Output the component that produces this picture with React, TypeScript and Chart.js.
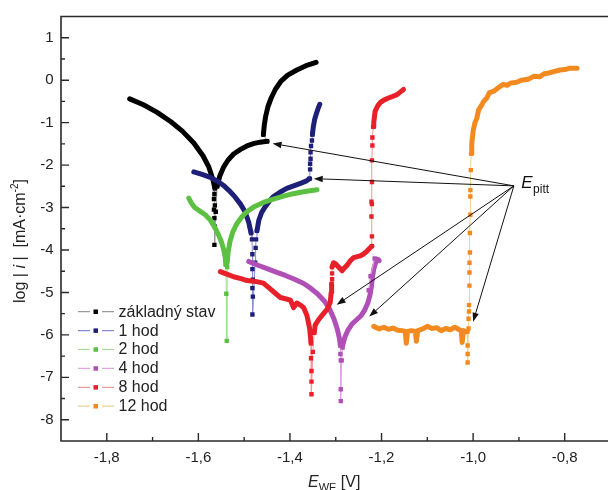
import React, { useEffect, useRef } from "react";
import { Chart, registerables } from "chart.js";

Chart.register(...registerables);

type P = [number, number];

const FONT = '"Liberation Sans", Arial, Helvetica, sans-serif';

// ---- axes ----
const xMin = -1.9;
const xMax = -0.7;
const yMin = -8.5;
const yMax = 1.5;
const xTickValues = [-1.8, -1.6, -1.4, -1.2, -1.0, -0.8];
const xMinorValues = [-1.7, -1.5, -1.3, -1.1, -0.9];
const yTickValues = [1, 0, -1, -2, -3, -4, -5, -6, -7, -8];
const yMinorValues = [0.5, -0.5, -1.5, -2.5, -3.5, -4.5, -5.5, -6.5, -7.5];

const seriesNames = ["základný stav", "1 hod", "2 hod", "4 hod", "8 hod", "12 hod"];

// ---- základný stav ----
const stavCathodic: P[] = [[-1.750, -0.44], [-1.720, -0.58], [-1.690, -0.76], [-1.660, -0.98], [-1.635, -1.20], [-1.610, -1.48], [-1.590, -1.78], [-1.577, -2.05], [-1.568, -2.35], [-1.564, -2.55]];
const stavMin: P[] = [[-1.564, -2.55], [-1.565, -2.68], [-1.566, -2.80], [-1.564, -2.95], [-1.566, -3.05], [-1.565, -3.25], [-1.564, -3.45], [-1.565, -3.88], [-1.562, -3.10], [-1.559, -2.50]];
const stavAnodicA: P[] = [[-1.559, -2.50], [-1.553, -2.25], [-1.545, -2.05], [-1.535, -1.88], [-1.523, -1.74], [-1.508, -1.63], [-1.494, -1.55], [-1.478, -1.49], [-1.465, -1.46], [-1.450, -1.44]];
const stavGap: P[] = [[-1.450, -1.44], [-1.458, -1.28]];
const stavAnodicB: P[] = [[-1.458, -1.28], [-1.456, -1.05], [-1.453, -0.85], [-1.448, -0.62], [-1.441, -0.42], [-1.432, -0.22], [-1.420, -0.03], [-1.405, 0.12], [-1.385, 0.24], [-1.365, 0.34], [-1.343, 0.42]];

// ---- 1 hod ----
const h1Cathodic: P[] = [[-1.610, -2.16], [-1.592, -2.22], [-1.574, -2.29], [-1.558, -2.38], [-1.545, -2.48], [-1.533, -2.60], [-1.520, -2.75], [-1.508, -2.92], [-1.498, -3.10], [-1.490, -3.35], [-1.485, -3.60]];
const h1Min: P[] = [[-1.485, -3.60], [-1.483, -3.75], [-1.482, -4.10], [-1.482, -4.45], [-1.481, -4.70], [-1.482, -4.90], [-1.481, -5.10], [-1.482, -5.52], [-1.476, -4.30], [-1.475, -3.95], [-1.474, -3.75], [-1.472, -3.55]];
const h1Anodic: P[] = [[-1.472, -3.55], [-1.468, -3.30], [-1.462, -3.12], [-1.454, -2.98], [-1.445, -2.85], [-1.436, -2.74], [-1.422, -2.64], [-1.407, -2.55], [-1.392, -2.49], [-1.377, -2.43], [-1.365, -2.38], [-1.357, -2.32]];
const h1Jump: P[] = [[-1.357, -2.32], [-1.356, -2.10], [-1.356, -1.97], [-1.355, -1.85], [-1.355, -1.70], [-1.354, -1.55], [-1.352, -1.42], [-1.351, -1.28]];
const h1Top: P[] = [[-1.351, -1.28], [-1.349, -1.10], [-1.346, -0.92], [-1.342, -0.78], [-1.338, -0.65], [-1.335, -0.57]];

// ---- 2 hod ----
const h2Cathodic: P[] = [[-1.621, -2.78], [-1.615, -2.90], [-1.608, -3.00], [-1.596, -3.09], [-1.585, -3.17], [-1.575, -3.28], [-1.565, -3.45], [-1.557, -3.62], [-1.550, -3.80], [-1.545, -3.98], [-1.541, -4.20], [-1.540, -4.35]];
const h2Min: P[] = [[-1.540, -4.35], [-1.539, -5.03], [-1.538, -6.14], [-1.537, -4.40]];
const h2Anodic: P[] = [[-1.537, -4.30], [-1.535, -4.05], [-1.531, -3.80], [-1.525, -3.58], [-1.516, -3.38], [-1.505, -3.22], [-1.494, -3.10], [-1.478, -2.98], [-1.458, -2.88], [-1.436, -2.80], [-1.414, -2.73], [-1.395, -2.68], [-1.377, -2.64], [-1.360, -2.61], [-1.341, -2.58]];

// ---- 4 hod ----
const h4Cathodic: P[] = [[-1.490, -4.27], [-1.470, -4.36], [-1.450, -4.44], [-1.430, -4.52], [-1.410, -4.60], [-1.390, -4.69], [-1.370, -4.79], [-1.355, -4.90], [-1.340, -5.03], [-1.325, -5.20], [-1.313, -5.40], [-1.304, -5.62], [-1.297, -5.85], [-1.292, -6.08], [-1.290, -6.25]];
const h4Min: P[] = [[-1.290, -6.25], [-1.290, -6.45], [-1.289, -6.60], [-1.289, -7.28], [-1.289, -7.56], [-1.287, -6.60], [-1.285, -6.30]];
const h4Anodic: P[] = [[-1.285, -6.25], [-1.280, -6.05], [-1.273, -5.88], [-1.265, -5.75], [-1.255, -5.65], [-1.245, -5.55], [-1.237, -5.42], [-1.230, -5.25], [-1.225, -5.05], [-1.222, -4.85], [-1.220, -4.65], [-1.217, -4.45], [-1.213, -4.30], [-1.208, -4.22], [-1.205, -4.25]];
const h4Dots: P[] = [[-1.228, -4.95], [-1.224, -4.62], [-1.215, -4.20]];

// ---- 8 hod ----
const h8Cathodic: P[] = [[-1.552, -4.51], [-1.535, -4.58], [-1.523, -4.63], [-1.505, -4.68], [-1.494, -4.72], [-1.475, -4.74], [-1.458, -4.78], [-1.445, -4.90], [-1.432, -5.02], [-1.421, -5.12], [-1.410, -5.15], [-1.399, -5.18], [-1.392, -5.36], [-1.385, -5.25], [-1.377, -5.30], [-1.370, -5.36], [-1.363, -5.54], [-1.357, -5.85], [-1.354, -6.20]];
const h8Min: P[] = [[-1.354, -6.20], [-1.354, -6.55], [-1.353, -6.85], [-1.353, -7.10], [-1.353, -7.40], [-1.350, -6.40], [-1.347, -5.95]];
const h8AnodicA: P[] = [[-1.347, -5.95], [-1.345, -5.77], [-1.338, -5.65], [-1.330, -5.54], [-1.319, -5.40], [-1.312, -5.23], [-1.310, -5.00], [-1.309, -4.80]];
const h8Step: P[] = [[-1.309, -4.80], [-1.308, -4.69], [-1.308, -4.55], [-1.308, -4.40]];
const h8AnodicB: P[] = [[-1.308, -4.40], [-1.305, -4.30], [-1.300, -4.33], [-1.294, -4.40], [-1.286, -4.49], [-1.281, -4.42], [-1.276, -4.37], [-1.268, -4.25], [-1.261, -4.18], [-1.247, -4.14], [-1.240, -4.10], [-1.232, -4.03], [-1.226, -3.96], [-1.221, -3.91]];
const h8Jump: P[] = [[-1.221, -3.91], [-1.221, -3.68], [-1.222, -3.21], [-1.222, -2.86], [-1.221, -2.92], [-1.221, -2.40], [-1.221, -1.89], [-1.220, -1.54], [-1.220, -1.35], [-1.218, -1.10]];
const h8Top: P[] = [[-1.218, -1.10], [-1.217, -1.00], [-1.214, -0.73], [-1.208, -0.60], [-1.203, -0.53], [-1.195, -0.47], [-1.185, -0.42], [-1.175, -0.38], [-1.166, -0.34], [-1.158, -0.27], [-1.152, -0.22]];

// ---- 12 hod ----
const h12Plateau: P[] = [[-1.217, -5.80], [-1.205, -5.86], [-1.195, -5.82], [-1.185, -5.87], [-1.175, -5.84], [-1.165, -5.89], [-1.155, -5.90], [-1.148, -5.92], [-1.146, -6.20], [-1.143, -5.92], [-1.135, -5.90], [-1.126, -5.92], [-1.124, -6.15], [-1.121, -5.90], [-1.110, -5.86], [-1.100, -5.80], [-1.090, -5.85], [-1.080, -5.83], [-1.070, -5.90], [-1.060, -5.85], [-1.050, -5.88], [-1.040, -5.82], [-1.030, -5.88], [-1.026, -5.90], [-1.024, -6.18], [-1.021, -5.90], [-1.013, -5.93]];
const h12Jump: P[] = [[-1.013, -5.93], [-1.012, -6.25], [-1.012, -6.45], [-1.012, -6.65], [-1.010, -5.85], [-1.010, -5.62], [-1.009, -5.45], [-1.009, -5.30], [-1.008, -4.84], [-1.008, -4.53], [-1.008, -4.30], [-1.007, -4.06], [-1.007, -3.60], [-1.006, -3.17], [-1.006, -2.74], [-1.006, -2.59], [-1.005, -2.12], [-1.004, -1.73]];
const h12Top: P[] = [[-1.004, -1.73], [-1.003, -1.50], [-1.000, -1.20], [-0.996, -1.00], [-0.992, -0.90], [-0.988, -0.70], [-0.982, -0.60], [-0.977, -0.50], [-0.970, -0.42], [-0.965, -0.30], [-0.955, -0.26], [-0.945, -0.18], [-0.935, -0.10], [-0.925, -0.12], [-0.919, -0.07], [-0.905, -0.05], [-0.895, 0.00], [-0.880, 0.02], [-0.868, 0.09], [-0.855, 0.08], [-0.845, 0.15], [-0.835, 0.17], [-0.824, 0.20], [-0.810, 0.24], [-0.800, 0.25], [-0.790, 0.28], [-0.773, 0.28]];

// ---- E_pitt annotation (data units) ----
const pittOrigin: P = [-0.911, -2.49];
const pittTargets: P[] = [[-1.438, -1.49], [-1.348, -2.32], [-1.298, -5.29], [-1.227, -5.57], [-1.000, -5.69]];
const pittLabelAt: P = [-0.895, -2.53];

type Part = [P[], boolean]; // points, dense?
const seriesDefs: { name: string; marker: string; line: string; parts: Part[] }[] = [
  { name: seriesNames[0], marker: "#000000", line: "#9a9a9a", parts: [[stavCathodic, true], [stavMin, false], [stavAnodicA, true], [stavGap, false], [stavAnodicB, true]] },
  { name: seriesNames[1], marker: "#1e1f76", line: "#8a8ad8", parts: [[h1Cathodic, true], [h1Min, false], [h1Anodic, true], [h1Jump, false], [h1Top, true]] },
  { name: seriesNames[2], marker: "#5cc043", line: "#9fe08f", parts: [[h2Cathodic, true], [h2Min, false], [h2Anodic, true]] },
  { name: seriesNames[3], marker: "#b04fb6", line: "#e2a4e6", parts: [[h4Cathodic, true], [h4Min, false], [h4Anodic, true], [h4Dots, false]] },
  { name: seriesNames[4], marker: "#e8202a", line: "#ec9a9a", parts: [[h8Cathodic, true], [h8Min, false], [h8AnodicA, true], [h8Step, false], [h8AnodicB, true], [h8Jump, false], [h8Top, true]] },
  { name: seriesNames[5], marker: "#f28a1f", line: "#eed29c", parts: [[h12Plateau, true], [h12Jump, false], [h12Top, true]] },
];

const fmt = (v: number) => v.toFixed(1).replace(".", ",");

const overlay = {
  id: "overlay",
  afterDraw(chart: any) {
    const ctx: CanvasRenderingContext2D = chart.ctx;
    const xs = chart.scales.x;
    const ys = chart.scales.y;
    const { left, right, top, bottom } = chart.chartArea;
    ctx.save();
    // frame
    ctx.strokeStyle = "#2a2a2a";
    ctx.lineWidth = 1.6;
    ctx.beginPath();
    ctx.moveTo(left, top);
    ctx.lineTo(right, top);
    ctx.lineTo(right, bottom);
    ctx.lineTo(left, bottom);
    ctx.closePath();
    ctx.stroke();
    // ticks (inward)
    ctx.lineWidth = 1.4;
    ctx.beginPath();
    xTickValues.forEach((v) => { const p = xs.getPixelForValue(v); ctx.moveTo(p, bottom); ctx.lineTo(p, bottom - 8); });
    xMinorValues.forEach((v) => { const p = xs.getPixelForValue(v); ctx.moveTo(p, bottom); ctx.lineTo(p, bottom - 4); });
    yTickValues.forEach((v) => { const p = ys.getPixelForValue(v); ctx.moveTo(left, p); ctx.lineTo(left + 8, p); });
    yMinorValues.forEach((v) => { const p = ys.getPixelForValue(v); ctx.moveTo(left, p); ctx.lineTo(left + 4, p); });
    ctx.stroke();

    // y title
    ctx.fillStyle = "#222";
    ctx.textBaseline = "alphabetic";
    const yRuns = [
      { t: "log | ", f: `16px ${FONT}`, dy: 0 },
      { t: "i", f: `italic 16px ${FONT}`, dy: 0 },
      { t: " |  [mA·cm", f: `16px ${FONT}`, dy: 0 },
      { t: "-2", f: `10px ${FONT}`, dy: -7 },
      { t: "]", f: `16px ${FONT}`, dy: 0 },
    ];
    let total = 0;
    yRuns.forEach((r) => { ctx.font = r.f; total += ctx.measureText(r.t).width; });
    ctx.save();
    ctx.translate(25, 241);
    ctx.rotate(-Math.PI / 2);
    let cx = -total / 2;
    yRuns.forEach((r) => { ctx.font = r.f; ctx.textAlign = "left"; ctx.fillText(r.t, cx, r.dy); cx += ctx.measureText(r.t).width; });
    ctx.restore();

    // x title
    const xRuns = [
      { t: "E", f: `italic 16px ${FONT}`, dy: 0 },
      { t: "WE", f: `11px ${FONT}`, dy: 4 },
      { t: " [V]", f: `16px ${FONT}`, dy: 0 },
    ];
    let tx = 308;
    xRuns.forEach((r) => { ctx.font = r.f; ctx.textAlign = "left"; ctx.fillText(r.t, tx, 487 + r.dy); tx += ctx.measureText(r.t).width; });

    // legend
    const legY = [311.7, 330.6, 349.5, 368.4, 387.3, 406.2];
    seriesDefs.forEach((s, i) => {
      const y = legY[i];
      ctx.strokeStyle = s.line;
      ctx.lineWidth = 1.2;
      ctx.beginPath();
      ctx.moveTo(78, y); ctx.lineTo(90, y);
      ctx.moveTo(102, y); ctx.lineTo(114, y);
      ctx.stroke();
      ctx.fillStyle = s.marker;
      ctx.fillRect(93.5, y - 2.2, 4.5, 4.5);
      ctx.fillStyle = "#222";
      ctx.font = `16px ${FONT}`;
      ctx.textAlign = "left";
      ctx.textBaseline = "middle";
      ctx.fillText(s.name, 118.5, y + 0.5);
    });

    // E_pitt arrows
    const ox = xs.getPixelForValue(pittOrigin[0]);
    const oy = ys.getPixelForValue(pittOrigin[1]);
    ctx.strokeStyle = "#111";
    ctx.fillStyle = "#111";
    ctx.lineWidth = 1;
    pittTargets.forEach(([vx, vy]) => {
      const px = xs.getPixelForValue(vx);
      const py = ys.getPixelForValue(vy);
      const ang = Math.atan2(py - oy, px - ox);
      const L = 9, W = 3.2;
      const bx = px - L * Math.cos(ang);
      const by = py - L * Math.sin(ang);
      ctx.beginPath();
      ctx.moveTo(ox, oy);
      ctx.lineTo(bx, by);
      ctx.stroke();
      ctx.beginPath();
      ctx.moveTo(px, py);
      ctx.lineTo(bx + W * Math.sin(ang), by - W * Math.cos(ang));
      ctx.lineTo(bx - W * Math.sin(ang), by + W * Math.cos(ang));
      ctx.closePath();
      ctx.fill();
    });
    const lx = xs.getPixelForValue(pittLabelAt[0]);
    const ly = ys.getPixelForValue(pittLabelAt[1]);
    ctx.textBaseline = "alphabetic";
    ctx.textAlign = "left";
    ctx.fillStyle = "#111";
    ctx.font = `italic 17px ${FONT}`;
    ctx.fillText("E", lx, ly);
    const ew = ctx.measureText("E").width;
    ctx.font = `12px ${FONT}`;
    ctx.fillText("pitt", lx + ew + 0.5, ly + 5);
    ctx.restore();
  },
};

export default function App() {
  const ref = useRef<HTMLCanvasElement | null>(null);
  useEffect(() => {
    if (!ref.current) return;
    const datasets: any[] = [];
    seriesDefs.forEach((s, si) => {
      s.parts.forEach(([pts, dense]) => {
        datasets.push({
          label: s.name,
          data: pts.map(([x, y]) => ({ x, y })),
          showLine: true,
          borderColor: dense ? s.marker : s.line,
          borderWidth: dense ? 5 : 1,
          borderJoinStyle: "round",
          borderCapStyle: "round",
          pointRadius: dense ? 0 : 3.1,
          pointStyle: "rect",
          pointBackgroundColor: s.marker,
          pointBorderWidth: 0,
          tension: 0,
          order: 20 - si * 2 - (dense ? 0 : 1),
        });
      });
    });
    const chart = new Chart(ref.current, {
      type: "scatter",
      data: { datasets },
      options: {
        animation: false,
        responsive: false,
        devicePixelRatio: 1,
        events: [],
        layout: { padding: { left: 0, top: 11, right: 9.5, bottom: 0 } },
        plugins: { legend: { display: false }, tooltip: { enabled: false } },
        scales: {
          x: {
            type: "linear",
            min: xMin,
            max: xMax,
            grid: { display: false, drawTicks: false },
            border: { display: false },
            afterBuildTicks: (scale: any) => { scale.ticks = xTickValues.map((value) => ({ value })); },
            afterFit: (scale: any) => { scale.height = 49; },
            ticks: {
              autoSkip: false,
              maxRotation: 0,
              padding: 8,
              color: "#222",
              font: { family: FONT, size: 15 },
              callback: (v: any) => fmt(Number(v)),
            },
          },
          y: {
            type: "linear",
            min: yMin,
            max: yMax,
            grid: { display: false, drawTicks: false },
            border: { display: false },
            afterBuildTicks: (scale: any) => { scale.ticks = yTickValues.map((value) => ({ value })); },
            afterFit: (scale: any) => { scale.width = 61; },
            ticks: {
              autoSkip: false,
              padding: 7.5,
              color: "#222",
              font: { family: FONT, size: 15 },
              callback: (v: any) => String(Number(v)),
            },
          },
        },
      },
      plugins: [overlay],
    });
    return () => chart.destroy();
  }, []);
  return (
    <div style={{ position: "absolute", left: 0, top: 0, width: 608, height: 490, overflow: "hidden", background: "#fff" }}>
      <canvas ref={ref} width={620} height={490} style={{ display: "block", width: 620, height: 490 }} />
    </div>
  );
}
